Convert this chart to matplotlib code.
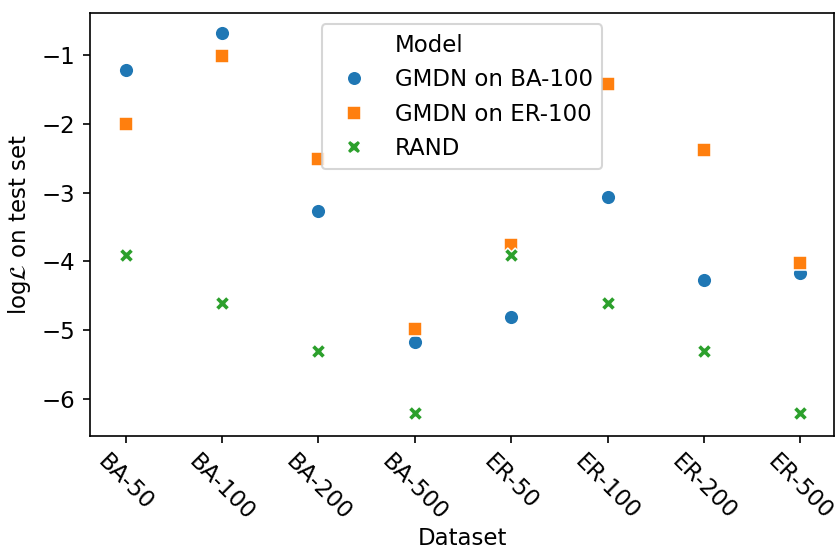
import matplotlib.pyplot as plt
import numpy as np
from matplotlib.lines import Line2D

# datasets on the x axis
datasets = ['BA-50', 'BA-100', 'BA-200', 'BA-500', 'ER-50', 'ER-100', 'ER-200', 'ER-500']

# log-likelihood on test set
gmdn_ba100 = [-1.22, -0.68, -3.27, -5.17, -4.81, -3.07, -4.27, -4.17]
gmdn_er100 = [-2.00, -1.01, -2.51, -4.98, -3.77, -1.42, -2.38, -4.03]
rand = [-3.91, -4.61, -5.30, -6.21, -3.91, -4.61, -5.30, -6.21]

series = [
    ('GMDN on BA-100', gmdn_ba100, 'o', '#1f77b4'),
    ('GMDN on ER-100', gmdn_er100, 's', '#ff7f0e'),
    ('RAND', rand, 'X', '#2ca02c'),
]

plt.rcParams['font.size'] = 11

fig = plt.figure(figsize=(836 / 150, 550 / 150), dpi=150)
ax = fig.add_axes([90 / 836, 1 - 436 / 550, 744 / 836, 423 / 550])

x = np.arange(len(datasets))
handles = [Line2D([], [], linestyle='', marker='', label='Model')]
for name, vals, mk, col in series:
    ax.scatter(x, vals, marker=mk, color=col, s=50, edgecolor='white', linewidth=0.75)
    handles.append(Line2D([], [], linestyle='', marker=mk, markersize=7,
                          color=col, markeredgecolor='white', markeredgewidth=0.75,
                          label=name))

ax.set_xlim(-0.37, 7.35)
ax.set_ylim(-6.54, -0.39)
ax.set_xticks(x)
ax.set_xticklabels(datasets, rotation=-45)
ax.set_xlabel('Dataset', labelpad=1)
ax.set_ylabel(r'$\mathrm{log}\mathcal{L}$ on test set')
ax.legend(handles=handles, loc='upper center')

fig.savefig('out.png', dpi=150)
